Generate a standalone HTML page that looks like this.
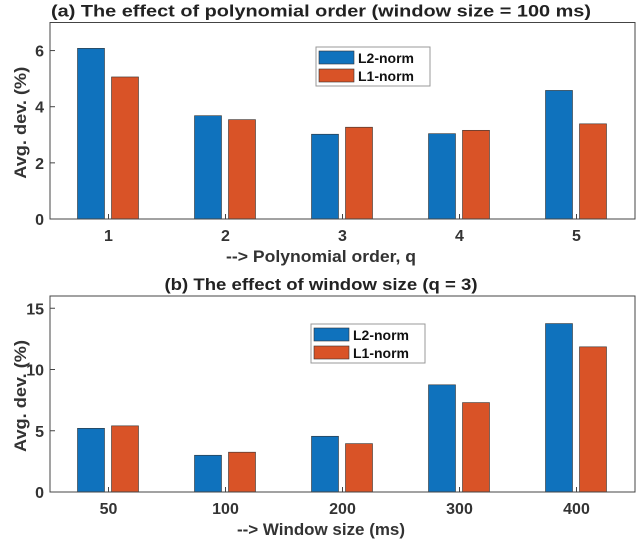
<!DOCTYPE html>
<html><head><meta charset="utf-8"><style>
body{margin:0;background:#fff;width:640px;height:542px;overflow:hidden}
svg{font-family:"Liberation Sans",sans-serif;font-weight:bold}
</style></head><body>
<svg id="s" width="640" height="542"></svg>
<script>
const catsA=["1","2","3","4","5"];
const l2A=[6.08,3.68,3.02,3.04,4.58];
const l1A=[5.06,3.54,3.27,3.16,3.39];
const ticksA=[0,2,4,6];
const catsB=["50","100","200","300","400"];
const l2B=[5.2,3.0,4.55,8.75,13.75];
const l1B=[5.4,3.25,3.95,7.3,11.85];
const ticksB=[0,5,10,15];
const NS="http://www.w3.org/2000/svg";
const svg=document.getElementById('s');
function mk(t,a,txt){const e=document.createElementNS(NS,t);for(const k in a)e.setAttribute(k,a[k]);if(txt!=null)e.textContent=txt;svg.appendChild(e);return e;}
function panel(p,cats,l2,l1,ticks,ymax,top,bottom,title,tw,xlabel,xw,leg){
 const L=50,R=635;
 const x=i=>L+(i+0.5)*(R-L)/cats.length;
 const y=v=>bottom-v*(bottom-top)/ymax;
 let t=mk('text',{x:321,y:top-6,'text-anchor':'middle','font-size':17,fill:'#222',textLength:tw,lengthAdjust:'spacingAndGlyphs'},title);
 
 cats.forEach((c,i)=>{
  let b=mk('rect',{x:x(i)-31,y:y(l2[i]),width:27,height:bottom-y(l2[i]),fill:'#0f72bd',stroke:'#333','stroke-width':0.6});
  
  b=mk('rect',{x:x(i)+3,y:y(l1[i]),width:27,height:bottom-y(l1[i]),fill:'#d95327',stroke:'#333','stroke-width':0.6});
  
  let tl=mk('text',{x:x(i),y:bottom+22,'text-anchor':'middle','font-size':16,fill:'#333'},c);
  
  mk('line',{x1:x(i),x2:x(i),y1:bottom,y2:bottom-5,stroke:'#444'});
 });
 ticks.forEach(v=>{
  let tl=mk('text',{x:L-6,y:y(v)+6,'text-anchor':'end','font-size':16,fill:'#333'},v);
  
  mk('line',{x1:L,x2:L+5,y1:y(v),y2:y(v),stroke:'#444'});
 });
 let ax=mk('rect',{x:L,y:top,width:R-L,height:bottom-top,fill:'none',stroke:'#444','stroke-width':1});
 
 let yl=mk('text',{x:0,y:0,transform:`translate(26,${(top+bottom)/2+2}) rotate(-90)`,'text-anchor':'middle','font-size':17,fill:'#333',textLength:112,lengthAdjust:'spacingAndGlyphs'},'Avg. dev. (%)');
 
 let xl=mk('text',{x:321,y:bottom+43,'text-anchor':'middle','font-size':17,fill:'#333',textLength:xw,lengthAdjust:'spacingAndGlyphs'},xlabel);
 
 let lg=mk('rect',{x:leg[0],y:leg[1],width:114,height:39,fill:'#fff',stroke:'#999'});
 
 mk('rect',{x:leg[0]+3,y:leg[1]+4,width:35,height:13,fill:'#0f72bd',stroke:'#333','stroke-width':0.6});
 mk('rect',{x:leg[0]+3,y:leg[1]+22,width:35,height:13,fill:'#d95327',stroke:'#333','stroke-width':0.6});
 let e1=mk('text',{x:leg[0]+42,y:leg[1]+16,'font-size':14,fill:'#111'},'L2-norm');
 
 let e2=mk('text',{x:leg[0]+42,y:leg[1]+34,'font-size':14,fill:'#111'},'L1-norm');
 
}
panel('a',catsA,l2A,l1A,ticksA,7,22.5,219,'(a) The effect of polynomial order (window size = 100 ms)',540,'--> Polynomial order, q',190,[316,47]);
panel('b',catsB,l2B,l1B,ticksB,16,296,492,'(b) The effect of window size (q = 3)',313,'--> Window size (ms)',168,[311,324]);
</script>
</body></html>
